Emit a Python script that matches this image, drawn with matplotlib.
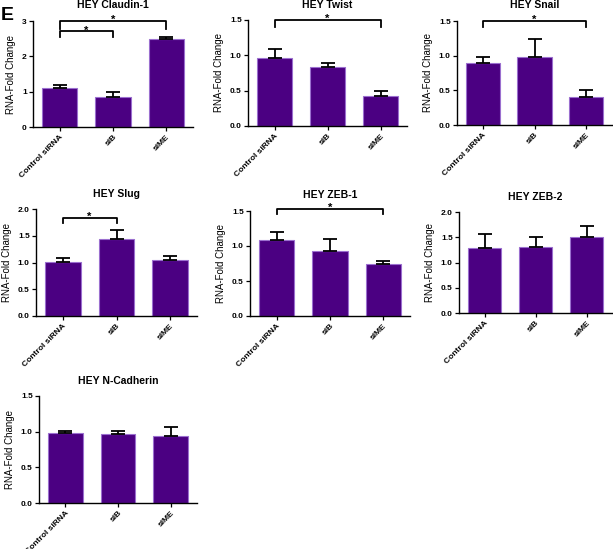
import matplotlib
matplotlib.use("Agg")
import matplotlib.pyplot as plt

plt.rcParams['font.family'] = ['Liberation Sans', 'DejaVu Sans']

categories = ["Control siRNA", "siB", "siME"]

titles = ["HEY Claudin-1", "HEY Twist", "HEY Snail", "HEY Slug", "HEY ZEB-1", "HEY ZEB-2", "HEY N-Cadherin"]

claudin_vals = [1.09, 0.86, 2.48]
claudin_err = [0.11, 0.14, 0.07]
twist_vals = [0.956, 0.837, 0.426]
twist_err = [0.132, 0.057, 0.071]
snail_vals = [0.90, 0.98, 0.41]
snail_err = [0.08, 0.26, 0.09]
slug_vals = [1.016, 1.448, 1.04]
slug_err = [0.064, 0.157, 0.08]
zeb1_vals = [1.08, 0.93, 0.75]
zeb1_err = [0.12, 0.17, 0.04]
zeb2_vals = [1.28, 1.30, 1.51]
zeb2_err = [0.29, 0.21, 0.21]
ncad_vals = [0.975, 0.966, 0.942]
ncad_err = [0.033, 0.044, 0.122]

values = [claudin_vals, twist_vals, snail_vals, slug_vals, zeb1_vals, zeb2_vals, ncad_vals]
errors = [claudin_err, twist_err, snail_err, slug_err, zeb1_err, zeb2_err, ncad_err]

ylims = [3, 1.5, 1.5, 2.0, 1.5, 2.0, 1.5]
yticks = [[0, 1, 2, 3], [0, 0.5, 1.0, 1.5], [0, 0.5, 1.0, 1.5], [0, 0.5, 1.0, 1.5, 2.0],
          [0, 0.5, 1.0, 1.5], [0, 0.5, 1.0, 1.5, 2.0], [0, 0.5, 1.0, 1.5]]
yticklabels = [["0", "1", "2", "3"],
               ["0.0", "0.5", "1.0", "1.5"], ["0.0", "0.5", "1.0", "1.5"],
               ["0.0", "0.5", "1.0", "1.5", "2.0"], ["0.0", "0.5", "1.0", "1.5"],
               ["0.0", "0.5", "1.0", "1.5", "2.0"], ["0.0", "0.5", "1.0", "1.5"]]

# significance brackets: (i, j, bracket_y, tick_bottom_y)
brackets = [
    [(0, 1, 2.71, 2.55), (0, 2, 3.0, 2.78)],
    [(0, 2, 1.5, 1.405)],
    [(0, 2, 1.5, 1.41)],
    [(0, 1, 1.84, 1.74)],
    [(0, 2, 1.53, 1.457)],
    [],
    [],
]

W, H = 613, 549
# axes pixel boxes: left, right, top, bottom
boxes = [
    (33, 193, 21, 127),
    (248, 407, 20, 126),
    (457, 612, 21, 125),
    (36, 197, 209, 316),
    (250, 410, 211, 316),
    (459, 612, 212, 313),
    (39, 197, 396, 503),
]

fig = plt.figure(figsize=(W / 100, H / 100), dpi=100)
fig.patch.set_facecolor('white')

bar_face = '#4B0082'
bar_edge = '#9B6FCF'

for k in range(7):
    l, r, t, b = boxes[k]
    ax = fig.add_axes([l / W, 1 - b / H, (r - l) / W, (b - t) / H])
    x = list(range(len(categories)))
    ax.bar(x, values[k], width=0.66, color=bar_face, edgecolor=bar_edge, linewidth=0.8, zorder=2)
    ax.errorbar(x, values[k], yerr=[[0] * 3, errors[k]], fmt='none', ecolor='black',
                elinewidth=1.3, capsize=5, capthick=1.3, zorder=3)
    ax.set_xlim(-0.5, 2.5)
    ax.set_ylim(0, ylims[k])
    ax.set_yticks(yticks[k])
    ax.set_yticklabels(yticklabels[k], fontsize=6, fontweight='bold')
    ax.set_xticks(x)
    ax.set_xticklabels(categories, rotation=45, ha='right', rotation_mode='anchor',
                       fontsize=6, fontweight='bold')
    for s in ['top', 'right']:
        ax.spines[s].set_visible(False)
    for s in ['left', 'bottom']:
        ax.spines[s].set_linewidth(1.0)
    ax.tick_params(axis='both', direction='out', length=3, width=0.9, pad=1.5)
    ax.set_ylabel("RNA-Fold Change", fontsize=7, labelpad=4)
    ax.set_title(titles[k], fontsize=7.5, fontweight='bold', pad=9)
    for (i, j, yb, yt) in brackets[k]:
        ax.plot([i, i, j, j], [yt, yb, yb, yt], color='black', lw=1.3, clip_on=False, zorder=4)
        ax.annotate("*", xy=((i + j) / 2, yb), xytext=(0, 0.5), textcoords='offset points',
                    ha='center', va='center', fontsize=8, fontweight='bold',
                    annotation_clip=False)

fig.text(1 / W, 1 - 7 / H, "E", fontsize=14, fontweight='bold', ha='left', va='top')

fig.savefig("out.png", dpi=100)
